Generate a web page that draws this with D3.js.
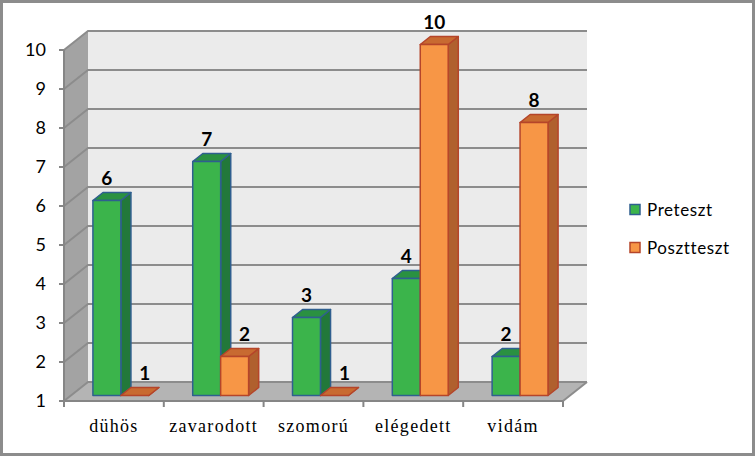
<!DOCTYPE html>
<html>
<head>
<meta charset="utf-8">
<script src="https://cdn.jsdelivr.net/npm/d3@7"></script>
<style>
  body { margin: 0; background: #fff; }
  svg { display: block; }
</style>
</head>
<body>
<svg id="chart" width="755" height="456"></svg>
<script>
// données
var categories = ["dühös", "zavarodott", "szomorú", "elégedett", "vidám"];
var series = ["Preteszt", "Posztteszt"];
var preteszt = [6, 7, 3, 4, 2];
var posztteszt = [1, 2, 1, 10, 8];
var yTicks = [1, 2, 3, 4, 5, 6, 7, 8, 9, 10];

var width = 755, height = 456;
// plan avant du graphique 3D
var x0 = 64, x1 = 563, yBot = 401, yTop = 50;
var DX = 24, DY = 19;         // profondeur totale
var z0 = 0.29, z1 = 0.71;     // profondeur des colonnes

var svg = d3.select("#chart");

// projection simple (oblique)
function P(x, y, z) { return [x + DX * z, y - DY * z]; }
function poly(pts) { return pts.map(p => p.join(",")).join(" "); }

var x = d3.scaleBand().domain(categories).range([x0, x1]);
var xs = d3.scaleBand().domain(series).range([0, x.bandwidth() * 0.56]);
var y = d3.scaleLinear().domain([1, 10]).range([yBot, yTop]);

// cadre
svg.append("rect")
  .attr("x", 1.5).attr("y", 1.5)
  .attr("width", width - 3).attr("height", height - 3)
  .attr("fill", "#fff").attr("stroke", "#8c8c8c").attr("stroke-width", 3);

// murs
svg.append("polygon")
  .attr("points", poly([P(x0, yTop, 1), P(x1, yTop, 1), P(x1, yBot, 1), P(x0, yBot, 1)]))
  .attr("fill", "#ebebeb");
svg.append("polygon")
  .attr("points", poly([P(x0, yTop, 0), P(x0, yTop, 1), P(x0, yBot, 1), P(x0, yBot, 0)]))
  .attr("fill", "#a3a3a3");
svg.append("polygon")
  .attr("points", poly([P(x0, yBot, 0), P(x1, yBot, 0), P(x1, yBot, 1), P(x0, yBot, 1)]))
  .attr("fill", "#b4b4b4");

// quadrillage
var grid = svg.append("g").attr("stroke", "#8c8c8c").attr("stroke-width", 2).attr("fill", "none");
yTicks.forEach(t => {
  var a = P(x0, y(t), 0), b = P(x0, y(t), 1), c = P(x1, y(t), 1);
  grid.append("polyline").attr("points", poly([a, b, c]));
});
grid.append("line")
  .attr("x1", P(x1, yBot, 0)[0]).attr("y1", P(x1, yBot, 0)[1])
  .attr("x2", P(x1, yBot, 1)[0]).attr("y2", P(x1, yBot, 1)[1]);

// axes
var axes = svg.append("g").attr("stroke", "#868686").attr("stroke-width", 2);
axes.append("line").attr("x1", x0).attr("x2", x0).attr("y1", yTop).attr("y2", yBot);
axes.append("line").attr("x1", x0).attr("x2", x1).attr("y1", yBot).attr("y2", yBot);
yTicks.forEach(t => {
  axes.append("line").attr("x1", x0 - 5).attr("x2", x0).attr("y1", y(t)).attr("y2", y(t));
});
categories.concat(["end"]).forEach((c, i) => {
  var xx = i < categories.length ? x(c) : x1;
  axes.append("line").attr("x1", xx).attr("x2", xx).attr("y1", yBot).attr("y2", yBot + 6);
});

svg.append("g")
  .attr("font-family", "Lato, sans-serif")
  .attr("font-size", 18)
  .attr("text-anchor", "end")
  .selectAll("text")
  .data(yTicks)
  .join("text")
  .attr("x", 46)
  .attr("y", d => y(d) + 6)
  .attr("fill", "#000")
  .text(d => d);

svg.append("g")
  .attr("font-family", "'Liberation Serif', serif")
  .attr("font-size", 18)
  .attr("letter-spacing", 1.3)
  .attr("text-anchor", "middle")
  .selectAll("text")
  .data(categories)
  .join("text")
  .attr("x", d => x(d) + x.bandwidth() / 2)
  .attr("y", 432)
  .text(d => d);

// colonnes
var colors = {
  "Preteszt": { front: "#3bb44b", side: "#22783a", top: "#2a9141", stroke: "#2f5f8f" },
  "Posztteszt": { front: "#f79646", side: "#b0602e", top: "#c86a31", stroke: "#b5452a" }
};

var bars = [];
categories.forEach((c, i) => {
  bars.push({ cat: c, s: "Preteszt", v: preteszt[i], prev: null });
  bars.push({ cat: c, s: "Posztteszt", v: posztteszt[i], prev: preteszt[i] });
});

var groupOff = (x.bandwidth() - xs.range()[1]) / 2;
var gBars = svg.append("g").attr("stroke-width", 1.5).attr("stroke-linejoin", "round");
bars.forEach(d => {
  var col = colors[d.s];
  var xl = x(d.cat) + groupOff + xs(d.s), xr = xl + xs.bandwidth();
  var yt = y(d.v), yb = y(1);
  // côté
  gBars.append("polygon")
    .attr("points", poly([P(xr, yt, z0), P(xr, yb, z0), P(xr, yb, z1), P(xr, yt, z1)]))
    .attr("fill", col.side).attr("stroke", col.stroke);
  // dessus
  gBars.append("polygon")
    .attr("points", poly([P(xl, yt, z0), P(xr, yt, z0), P(xr, yt, z1), P(xl, yt, z1)]))
    .attr("fill", col.top).attr("stroke", col.stroke);
  // face
  if (yb - yt > 0) {
    var f = P(xl, yt, z0);
    gBars.append("rect")
      .attr("x", f[0]).attr("y", f[1])
      .attr("width", xr - xl).attr("height", yb - yt)
      .attr("fill", col.front).attr("stroke", col.stroke);
  }
  // étiquette décalée si la colonne voisine est plus haute
  var shift = (d.prev !== null && d.prev > d.v) ? 10 : 0;
  d.lx = P((xl + xr) / 2, yt, z0)[0] + shift;
  d.ly = P((xl + xr) / 2, yt, z0)[1] - 15;
});

// étiquettes
svg.append("g")
  .attr("font-family", "Lato, sans-serif")
  .attr("font-size", 19)
  .attr("font-weight", "bold")
  .attr("text-anchor", "middle")
  .selectAll("text")
  .data(bars)
  .join("text")
  .attr("x", d => d.lx)
  .attr("y", d => d.ly)
  .text(d => d.v);

// légende
var leg = svg.append("g").attr("font-family", "Lato, sans-serif").attr("font-size", 17);
series.forEach((s, i) => {
  var yy = 210 + i * 38;
  leg.append("rect")
    .attr("x", 630).attr("y", yy - 5.5).attr("width", 10).attr("height", 10)
    .attr("fill", colors[s].front).attr("stroke", colors[s].stroke).attr("stroke-width", 1.5);
  leg.append("text")
    .attr("x", 647).attr("y", yy + 6)
    .attr("letter-spacing", 0.6)
    .text(s);
});
</script>
</body>
</html>
